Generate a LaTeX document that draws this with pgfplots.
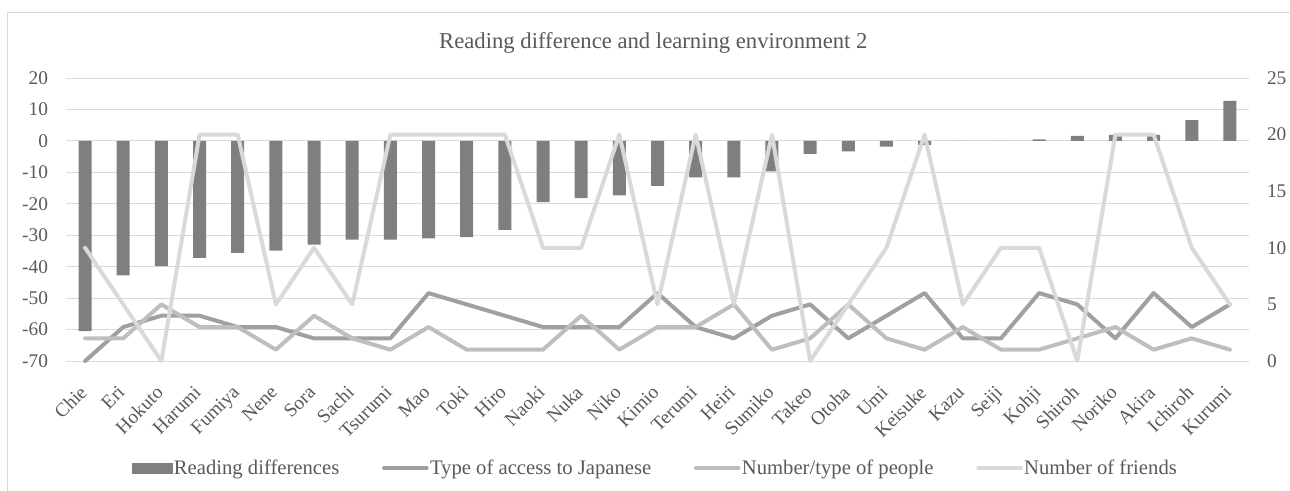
\documentclass[border=0pt]{standalone}
\usepackage{pgfplots}
\pgfplotsset{compat=1.18}
\usepackage{fontspec}
\setmainfont{Liberation Serif}
\definecolor{txt}{HTML}{595959}
\definecolor{barc}{HTML}{7F7F7F}
\definecolor{acc}{HTML}{A0A0A0}
\definecolor{ppl}{HTML}{BEBEBE}
\definecolor{frd}{HTML}{D9D9D9}
\definecolor{grd}{HTML}{D9D9D9}
\pgfplotsset{
  linelegend/.style={legend image code/.code={\draw[##1] (0pt,0pt) -- (32pt,0pt);}},
  barlegend/.style={legend image code/.code={\fill[barc] (0pt,-3.75pt) rectangle (30pt,3.75pt);}},
}
\pgfplotstableread{
x read access people friends
0  -60.5 0 2 10
1  -42.8 3 2 5
2  -39.8 4 5 0
3  -37.2 4 3 20
4  -35.6 3 3 20
5  -34.9 3 1 5
6  -33.0 2 4 10
7  -31.4 2 2 5
8  -31.4 2 1 20
9  -31.0 6 3 20
10 -30.6 5 1 20
11 -28.3 4 1 20
12 -19.5 3 1 10
13 -18.2 3 4 10
14 -17.3 3 1 20
15 -14.3 6 3 5
16 -11.6 3 3 20
17 -11.6 2 5 5
18 -9.7  4 1 20
19 -4.1  5 2 0
20 -3.3  2 5 5
21 -1.8  4 2 10
22 -1.3  6 1 20
23 0     2 3 5
24 0     2 1 10
25 0.5   6 1 10
26 1.6   5 2 0
27 1.9   2 3 20
28 1.9   6 1 20
29 6.6   3 2 10
30 12.7  5 1 5
}\data
\begin{document}
\begin{tikzpicture}
\path[use as bounding box] (0pt,0pt) rectangle (967.5pt,-367.5pt);
\draw[grd, line width=0.75pt] (5.25pt,-380pt) -- (5.25pt,-9pt) -- (980pt,-9pt);
\node[txt, font=\fontsize{17}{20}\selectfont] at (490pt,-32.25pt) {Reading difference and learning environment 2};
\begin{axis}[
  at={(49.5pt,-270.75pt)}, anchor=south west,
  scale only axis, width=887.25pt, height=212.25pt,
  xmin=-0.5, xmax=30.5, ymin=-70, ymax=20,
  ytick={-70,-60,...,20},
  xtick={0,...,30},
  xticklabels={Chie,Eri,Hokuto,Harumi,Fumiya,Nene,Sora,Sachi,Tsurumi,Mao,Toki,Hiro,Naoki,Nuka,Niko,Kimio,Terumi,Heiri,Sumiko,Takeo,Otoha,Umi,Keisuke,Kazu,Seiji,Kohji,Shiroh,Noriko,Akira,Ichiroh,Kurumi},
  xticklabel style={rotate=45, anchor=north east, inner sep=1pt, xshift=-7pt},
  xticklabel shift=11pt,
  axis line style={draw=none},
  major tick length=0pt,
  ymajorgrids, grid style={grd, line width=0.75pt},
  tick label style={txt, font=\fontsize{14.5}{17}\selectfont},
  yticklabel style={xshift=-10pt},
  /pgf/number format/assume math mode=true,
  clip=false,
]
\addplot[ybar, bar width=9.75pt, fill=barc, draw=none] table[x=x,y=read] {\data};
\end{axis}
\begin{axis}[
  at={(49.5pt,-270.75pt)}, anchor=south west,
  scale only axis, width=887.25pt, height=212.25pt,
  xmin=-0.5, xmax=30.5, ymin=0, ymax=25,
  ytick={0,5,...,25},
  axis x line=none,
  axis y line*=right,
  axis line style={draw=none},
  major tick length=0pt,
  tick label style={txt, font=\fontsize{14.5}{17}\selectfont},
  yticklabel style={xshift=10pt},
  /pgf/number format/assume math mode=true,
  clip=false,
  legend columns=4,
  legend style={at={(0.498,-0.378)}, anchor=center, draw=none, fill=none,
    font=\fontsize{15.5}{18}\selectfont, text=txt,
    /tikz/every even column/.append style={column sep=31pt},
    inner sep=0pt, nodes={inner sep=1pt}},
]
\addlegendimage{barlegend}
\addlegendentry{Reading differences}
\addplot[acc, line width=3pt, line join=round, line cap=round, linelegend] table[x=x,y=access] {\data};
\addlegendentry{Type of access to Japanese}
\addplot[ppl, line width=3pt, line join=round, line cap=round, linelegend] table[x=x,y=people] {\data};
\addlegendentry{Number/type of people}
\addplot[frd, line width=3pt, line join=round, line cap=round, linelegend] table[x=x,y=friends] {\data};
\addlegendentry{Number of friends}
\end{axis}
\end{tikzpicture}
\end{document}
